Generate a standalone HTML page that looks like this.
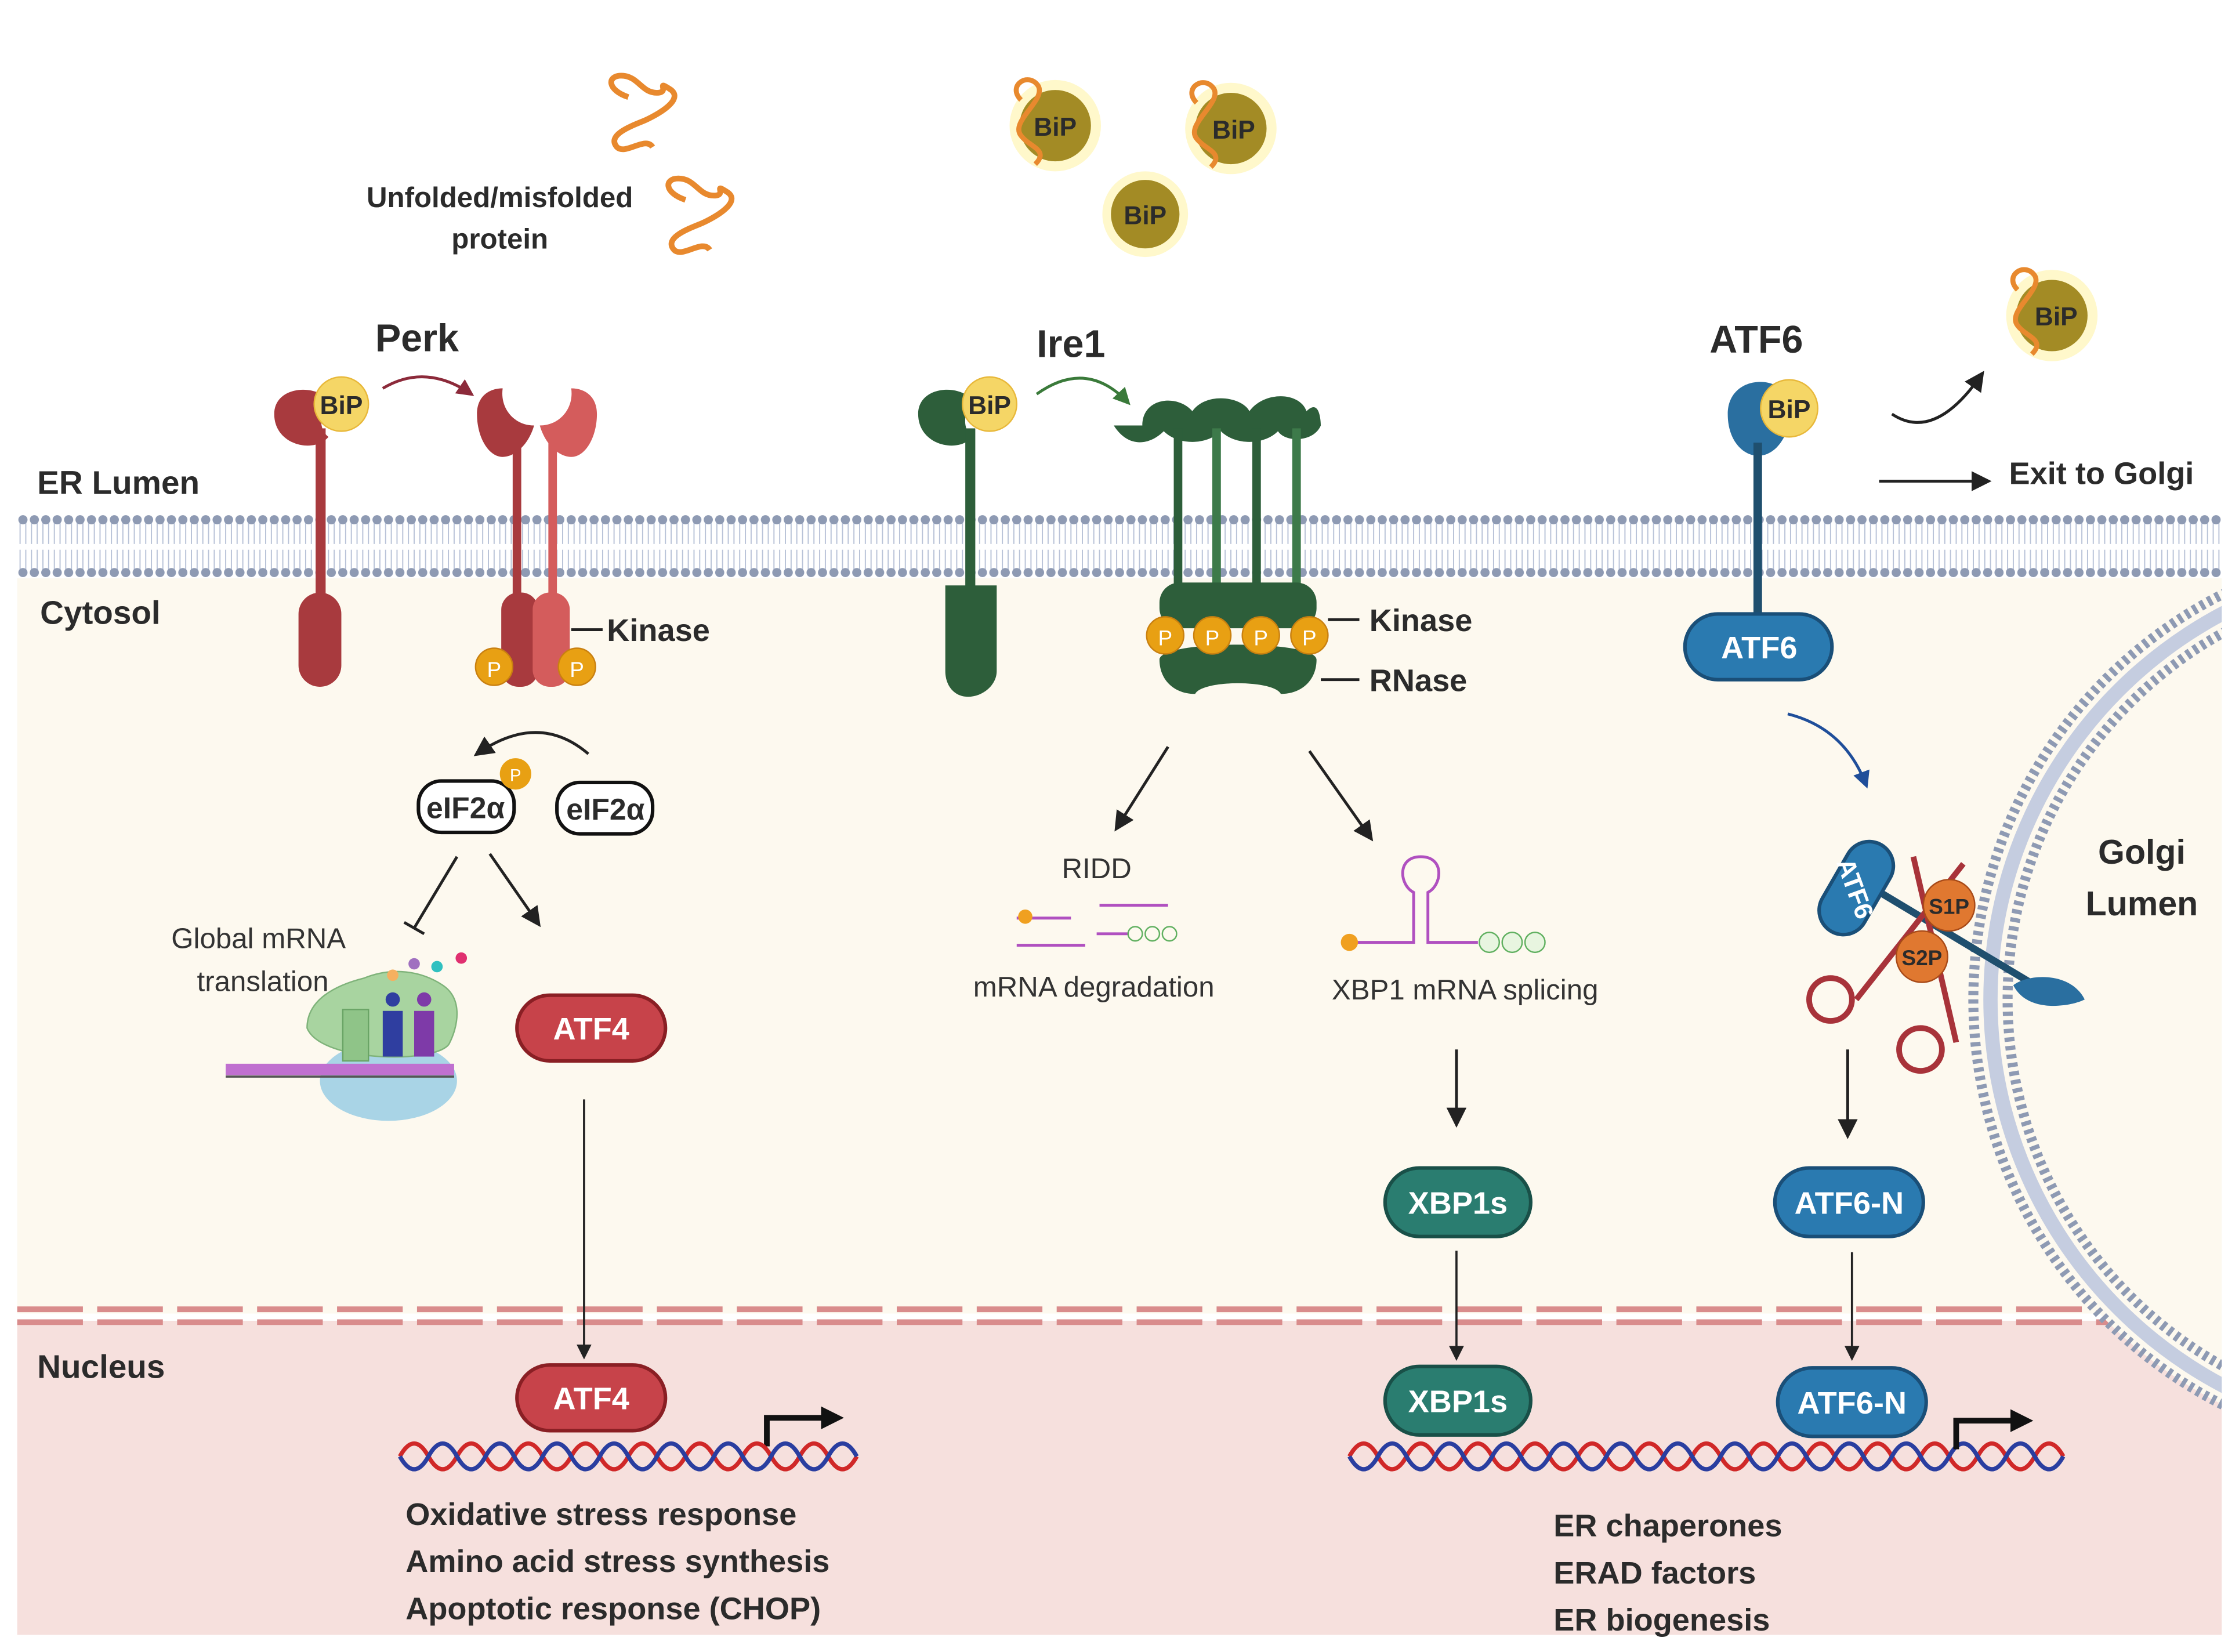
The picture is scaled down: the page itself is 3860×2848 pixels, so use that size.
<!DOCTYPE html>
<html><head><meta charset="utf-8"><style>
html,body{margin:0;padding:0;background:#fff}
svg{display:block}
text{font-family:"Liberation Sans",Arial,sans-serif}
.b{font-weight:bold;fill:#2b2b2b}
.w{font-weight:bold;fill:#fff}
.n{fill:#333}
</style></head><body>
<svg width="3860" height="2848" viewBox="0 0 1568 1157" xmlns="http://www.w3.org/2000/svg">
<defs>
<pattern id="mem" x="12" y="0" width="8" height="1157" patternUnits="userSpaceOnUse">
<line x1="2" y1="366" x2="2" y2="381" stroke="#b9c3d8" stroke-width="0.8"/>
<line x1="6" y1="366" x2="6" y2="381" stroke="#b9c3d8" stroke-width="0.8"/>
<line x1="2" y1="385" x2="2" y2="399" stroke="#b9c3d8" stroke-width="0.8"/>
<line x1="6" y1="385" x2="6" y2="399" stroke="#b9c3d8" stroke-width="0.8"/>
<circle cx="4" cy="364" r="3.2" fill="#8e9ab3"/>
<circle cx="4" cy="401" r="3.2" fill="#8e9ab3"/>
</pattern>
<marker id="ar" viewBox="0 0 10 10" refX="8" refY="5" markerWidth="7" markerHeight="7" orient="auto"><path d="M0,0 L10,5 L0,10 z" fill="#222"/></marker>
<marker id="arR" viewBox="0 0 10 10" refX="8" refY="5" markerWidth="6" markerHeight="6" orient="auto"><path d="M0,0 L10,5 L0,10 z" fill="#8c2a3a"/></marker>
<marker id="arG" viewBox="0 0 10 10" refX="8" refY="5" markerWidth="6" markerHeight="6" orient="auto"><path d="M0,0 L10,5 L0,10 z" fill="#3a7a3a"/></marker>
<marker id="arB" viewBox="0 0 10 10" refX="8" refY="5" markerWidth="6" markerHeight="6" orient="auto"><path d="M0,0 L10,5 L0,10 z" fill="#1f4e9a"/></marker>
</defs>
<rect x="12" y="405" width="1544" height="515" fill="#fdf9ef"/>
<rect x="12" y="925" width="1544" height="220" fill="#f6e0dd"/>
<rect x="12" y="358" width="1544" height="48" fill="url(#mem)"/>
<line x1="12" y1="917" x2="1556" y2="917" stroke="#d98c8c" stroke-width="4" stroke-dasharray="46,10"/>
<line x1="12" y1="926" x2="1556" y2="926" stroke="#d98c8c" stroke-width="4" stroke-dasharray="46,10"/>
<!-- Golgi -->
<circle cx="1700" cy="700" r="318" fill="#fdf9ef" stroke="#8e9ab3" stroke-width="7" stroke-dasharray="3,3"/>
<circle cx="1700" cy="700" r="306" fill="none" stroke="#c5cde0" stroke-width="10"/>
<circle cx="1700" cy="700" r="294" fill="#fdf9ef" stroke="#8e9ab3" stroke-width="7" stroke-dasharray="3,3"/>
<rect x="1556" y="360" width="20" height="800" fill="#fff"/>
<text x="1500" y="605" class="b" font-size="24" text-anchor="middle">Golgi</text>
<text x="1500" y="641" class="b" font-size="24" text-anchor="middle">Lumen</text>

<text x="26" y="346" class="b" font-size="23">ER Lumen</text>
<text x="28" y="437" class="b" font-size="23">Cytosol</text>
<text x="26" y="965" class="b" font-size="23">Nucleus</text>

<path d="M440,68 c-15,-5 -15,-15 -5,-15 c12,0 14,12 25,12 c10,0 -2,-10 10,-2 c10,8 -15,20 -20,22 c-10,4 -25,10 -18,18 c6,6 20,-8 25,0" fill="none" stroke="#e8892e" stroke-width="4"/>
<path d="M480,140 c-15,-5 -15,-15 -5,-15 c12,0 14,12 25,12 c10,0 -2,-10 10,-2 c10,8 -15,20 -20,22 c-10,4 -25,10 -18,18 c6,6 20,-8 25,0" fill="none" stroke="#e8892e" stroke-width="4"/>
<text x="350" y="145" class="b" font-size="20" text-anchor="middle">Unfolded/misfolded</text>
<text x="350" y="174" class="b" font-size="20" text-anchor="middle">protein</text>

<g font-size="18">
<circle cx="739" cy="88" r="32" fill="#fff3a8" opacity="0.6"/><circle cx="739" cy="88" r="25" fill="#a38b25"/>
<path d="M715,70 c-10,-10 5,-20 12,-10 c6,10 -20,25 -12,35 c6,8 20,10 10,20" fill="none" stroke="#e8892e" stroke-width="3.5"/>
<text x="739" y="95" class="b" text-anchor="middle">BiP</text>
<circle cx="862" cy="90" r="32" fill="#fff3a8" opacity="0.6"/><circle cx="862" cy="90" r="25" fill="#a38b25"/>
<path d="M838,72 c-10,-10 5,-20 12,-10 c6,10 -20,25 -12,35 c6,8 20,10 10,20" fill="none" stroke="#e8892e" stroke-width="3.5"/>
<text x="864" y="97" class="b" text-anchor="middle">BiP</text>
<circle cx="802" cy="150" r="30" fill="#fff3a8" opacity="0.6"/><circle cx="802" cy="150" r="24" fill="#a38b25"/>
<text x="802" y="157" class="b" text-anchor="middle">BiP</text>
<circle cx="1437" cy="221" r="32" fill="#fff3a8" opacity="0.6"/><circle cx="1437" cy="221" r="25" fill="#a38b25"/>
<path d="M1413,203 c-10,-10 5,-20 12,-10 c6,10 -20,25 -12,35 c6,8 20,10 10,20" fill="none" stroke="#e8892e" stroke-width="3.5"/>
<text x="1440" y="228" class="b" text-anchor="middle">BiP</text>
</g>

<!-- PERK -->
<text x="292" y="246" class="b" font-size="27" text-anchor="middle">Perk</text>
<path d="M192,290 c0,-20 30,-22 40,-8 c-8,4 -10,18 -2,24 c-10,12 -38,6 -38,-16z" fill="#a83a3e"/>
<rect x="221" y="300" width="7" height="120" fill="#a83a3e"/>
<rect x="209" y="415" width="30" height="66" rx="15" fill="#a83a3e"/>
<circle cx="239" cy="283" r="19" fill="#f5d666" stroke="#e8b83a"/>
<text x="239" y="290" class="b" font-size="18" text-anchor="middle">BiP</text>
<path d="M268,272 q30,-18 62,4" fill="none" stroke="#8c2a3a" stroke-width="2" marker-end="url(#arR)"/>
<path d="M334,290 c0,-12 8,-18 18,-18 c-2,14 8,26 22,26 l0,0 c-4,14 -14,22 -22,22 c-10,0 -18,-14 -18,-30z" fill="#a83a3e"/>
<path d="M418,290 c0,-12 -8,-18 -18,-18 c2,14 -8,26 -22,26 c4,14 14,22 22,22 c10,0 18,-14 18,-30z" fill="#d45c5c"/>
<rect x="359" y="305" width="6" height="115" fill="#a83a3e"/>
<rect x="384" y="305" width="6" height="115" fill="#d45c5c"/>
<rect x="351" y="415" width="26" height="66" rx="12" fill="#a83a3e"/>
<rect x="373" y="415" width="26" height="66" rx="12" fill="#d45c5c"/>
<circle cx="346" cy="467" r="13" fill="#e8a013" stroke="#c98010"/><text x="346" y="474" font-size="15" fill="#fff" text-anchor="middle">P</text>
<circle cx="404" cy="467" r="13" fill="#e8a013" stroke="#c98010"/><text x="404" y="474" font-size="15" fill="#fff" text-anchor="middle">P</text>
<line x1="400" y1="441" x2="422" y2="441" stroke="#222" stroke-width="2"/>
<text x="425" y="449" class="b" font-size="22">Kinase</text>

<path d="M412,528 q-35,-30 -78,0" fill="none" stroke="#222" stroke-width="2" marker-end="url(#ar)"/>
<rect x="293" y="547" width="67" height="36" rx="16" fill="#fff" stroke="#111" stroke-width="2.5"/>
<text x="326" y="573" class="b" font-size="21" text-anchor="middle" fill="#111">eIF2α</text>
<circle cx="361" cy="542" r="11" fill="#e8a013"/><text x="361" y="547" font-size="12" fill="#fff" text-anchor="middle">P</text>
<rect x="390" y="548" width="67" height="36" rx="16" fill="#fff" stroke="#111" stroke-width="2.5"/>
<text x="424" y="574" class="b" font-size="21" text-anchor="middle" fill="#111">eIF2α</text>
<line x1="320" y1="600" x2="290" y2="650" stroke="#222" stroke-width="2"/>
<line x1="283" y1="646" x2="297" y2="654" stroke="#222" stroke-width="2"/>
<line x1="343" y1="598" x2="377" y2="647" stroke="#222" stroke-width="2" marker-end="url(#ar)"/>
<text x="181" y="664" class="n" font-size="20" text-anchor="middle">Global mRNA</text>
<text x="184" y="694" class="n" font-size="20" text-anchor="middle">translation</text>
<ellipse cx="272" cy="757" rx="48" ry="28" fill="#a9d4e6"/>
<path d="M215,720 c0,-20 20,-30 40,-35 c20,-8 40,-5 55,5 c15,10 10,30 5,40 c-5,15 -90,15 -100,-10z" fill="#a8d4a0" stroke="#7fb37a"/>
<rect x="240" y="707" width="18" height="36" fill="#8fc488" stroke="#6aa466"/>
<rect x="268" y="708" width="14" height="32" fill="#2f3ea0"/>
<rect x="290" y="708" width="14" height="32" fill="#7e3aa8"/>
<circle cx="275" cy="700" r="5" fill="#2f3ea0"/><circle cx="297" cy="700" r="5" fill="#7e3aa8"/>
<circle cx="275" cy="683" r="4" fill="#f5b060"/><circle cx="290" cy="675" r="4" fill="#a070c0"/><circle cx="306" cy="677" r="4" fill="#30c0c0"/><circle cx="323" cy="671" r="4" fill="#e03070"/>
<rect x="158" y="745" width="160" height="8" fill="#c070d0"/>
<line x1="158" y1="754" x2="318" y2="754" stroke="#555" stroke-width="1.5"/>
<rect x="362" y="697" width="104" height="46" rx="23" fill="#c7434a" stroke="#8a1f24" stroke-width="2.5"/>
<text x="414" y="728" class="w" font-size="22" text-anchor="middle">ATF4</text>
<line x1="409" y1="770" x2="409" y2="950" stroke="#222" stroke-width="1.5" marker-end="url(#ar)"/>
<rect x="362" y="956" width="104" height="46" rx="23" fill="#c7434a" stroke="#8a1f24" stroke-width="2.5"/>
<text x="414" y="987" class="w" font-size="22" text-anchor="middle">ATF4</text>
<path d="M537,1013 v-20 h40" fill="none" stroke="#111" stroke-width="4"/><path d="M575,985 l16,8 l-16,8z" fill="#111"/>
<g stroke-width="3" fill="none">
<path d="M280,1020 q10,-18 20,0 t20,0 t20,0 t20,0 t20,0 t20,0 t20,0 t20,0 t20,0 t20,0 t20,0 t20,0 t20,0 t20,0 t20,0 t20,0" stroke="#d02828"/>
<path d="M280,1020 q10,18 20,0 t20,0 t20,0 t20,0 t20,0 t20,0 t20,0 t20,0 t20,0 t20,0 t20,0 t20,0 t20,0 t20,0 t20,0 t20,0" stroke="#2a3ea0"/>
</g>
<text x="284" y="1068" class="b" font-size="22">Oxidative stress response</text>
<text x="284" y="1101" class="b" font-size="22">Amino acid stress synthesis</text>
<text x="284" y="1134" class="b" font-size="22">Apoptotic response (CHOP)</text>

<!-- IRE1 -->
<text x="750" y="250" class="b" font-size="27" text-anchor="middle">Ire1</text>
<path d="M643,290 c0,-20 30,-22 40,-8 c-8,4 -10,18 -2,24 c-10,12 -38,6 -38,-16z" fill="#2d5e3a"/>
<rect x="676" y="300" width="7" height="120" fill="#2d5e3a"/>
<path d="M662,410 h36 v60 c0,10 -10,18 -20,18 c-10,0 -16,-8 -16,-18z" fill="#2d5e3a"/>
<circle cx="693" cy="283" r="19" fill="#f5d666" stroke="#e8b83a"/>
<text x="693" y="290" class="b" font-size="18" text-anchor="middle">BiP</text>
<path d="M726,276 q35,-25 64,6" fill="none" stroke="#3a7a3a" stroke-width="2" marker-end="url(#arG)"/>
<g>
<path d="M800,298 c0,-20 25,-22 35,-10 c10,-14 35,-10 40,0 c10,-14 35,-14 40,0 c10,-10 10,10 10,10 c-5,12 -25,12 -30,4 c-10,10 -30,10 -40,0 c-10,10 -30,10 -40,0 c-10,10 -25,12 -35,-4z" fill="#2d5e3a"/>
<rect x="822" y="300" width="6" height="115" fill="#2d5e3a"/><rect x="849" y="300" width="6" height="115" fill="#3d7a4a"/>
<rect x="877" y="300" width="6" height="115" fill="#2d5e3a"/><rect x="905" y="300" width="6" height="115" fill="#3d7a4a"/>
<rect x="812" y="408" width="110" height="32" rx="14" fill="#2d5e3a"/>
<path d="M812,462 c0,-14 110,-14 110,0 c0,14 -10,24 -25,24 c-5,-10 -55,-10 -60,0 c-15,0 -25,-10 -25,-24z" fill="#2d5e3a"/>
<circle cx="816" cy="445" r="13" fill="#e8a013" stroke="#c98010"/><text x="816" y="452" font-size="15" fill="#fff" text-anchor="middle">P</text>
<circle cx="849" cy="445" r="13" fill="#e8a013" stroke="#c98010"/><text x="849" y="452" font-size="15" fill="#fff" text-anchor="middle">P</text>
<circle cx="883" cy="445" r="13" fill="#e8a013" stroke="#c98010"/><text x="883" y="452" font-size="15" fill="#fff" text-anchor="middle">P</text>
<circle cx="917" cy="445" r="13" fill="#e8a013" stroke="#c98010"/><text x="917" y="452" font-size="15" fill="#fff" text-anchor="middle">P</text>
</g>
<line x1="930" y1="434" x2="952" y2="434" stroke="#222" stroke-width="2"/>
<text x="959" y="442" class="b" font-size="22">Kinase</text>
<line x1="925" y1="476" x2="952" y2="476" stroke="#222" stroke-width="2"/>
<text x="959" y="484" class="b" font-size="22">RNase</text>
<line x1="818" y1="523" x2="782" y2="580" stroke="#222" stroke-width="2" marker-end="url(#ar)"/>
<line x1="917" y1="526" x2="960" y2="587" stroke="#222" stroke-width="2" marker-end="url(#ar)"/>
<text x="768" y="615" class="n" font-size="20" text-anchor="middle">RIDD</text>
<g stroke="#b050c0" stroke-width="2">
<line x1="712" y1="643" x2="750" y2="643"/><line x1="712" y1="662" x2="760" y2="662"/>
<line x1="770" y1="634" x2="818" y2="634"/><line x1="768" y1="654" x2="790" y2="654"/>
</g>
<circle cx="718" cy="642" r="5" fill="#f0a020"/>
<g fill="none" stroke="#60b060"><circle cx="795" cy="654" r="5"/><circle cx="807" cy="654" r="5"/><circle cx="819" cy="654" r="5"/></g>
<text x="766" y="698" class="n" font-size="20" text-anchor="middle">mRNA degradation</text>
<path d="M940,660 h50 v-35 c-10,-5 -12,-25 5,-25 c17,0 15,20 5,25 v35 h35" fill="none" stroke="#b050c0" stroke-width="2"/>
<circle cx="945" cy="660" r="6" fill="#f0a020"/>
<g fill="#e8f5e0" stroke="#60b060"><circle cx="1043" cy="660" r="7"/><circle cx="1059" cy="660" r="7"/><circle cx="1075" cy="660" r="7"/></g>
<text x="1026" y="700" class="n" font-size="20" text-anchor="middle">XBP1 mRNA splicing</text>
<line x1="1020" y1="735" x2="1020" y2="787" stroke="#222" stroke-width="2" marker-end="url(#ar)"/>
<rect x="970" y="818" width="102" height="48" rx="24" fill="#2a7d70" stroke="#195048" stroke-width="2.5"/>
<text x="1021" y="850" class="w" font-size="22" text-anchor="middle">XBP1s</text>
<line x1="1020" y1="876" x2="1020" y2="951" stroke="#222" stroke-width="1.5" marker-end="url(#ar)"/>
<rect x="970" y="957" width="102" height="48" rx="24" fill="#2a7d70" stroke="#195048" stroke-width="2.5"/>
<text x="1021" y="989" class="w" font-size="22" text-anchor="middle">XBP1s</text>
<g stroke-width="3" fill="none">
<path d="M945,1020 q10,-18 20,0 t20,0 t20,0 t20,0 t20,0 t20,0 t20,0 t20,0 t20,0 t20,0 t20,0 t20,0 t20,0 t20,0 t20,0 t20,0 t20,0 t20,0 t20,0 t20,0 t20,0 t20,0 t20,0 t20,0 t20,0" stroke="#d02828"/>
<path d="M945,1020 q10,18 20,0 t20,0 t20,0 t20,0 t20,0 t20,0 t20,0 t20,0 t20,0 t20,0 t20,0 t20,0 t20,0 t20,0 t20,0 t20,0 t20,0 t20,0 t20,0 t20,0 t20,0 t20,0 t20,0 t20,0 t20,0" stroke="#2a3ea0"/>
</g>
<text x="1088" y="1076" class="b" font-size="22">ER chaperones</text>
<text x="1088" y="1109" class="b" font-size="22">ERAD factors</text>
<text x="1088" y="1142" class="b" font-size="22">ER biogenesis</text>

<!-- ATF6 -->
<text x="1230" y="247" class="b" font-size="27" text-anchor="middle">ATF6</text>
<path d="M1210,290 c0,-25 30,-28 40,-15 c-8,6 -10,22 0,30 c-12,25 -40,15 -40,-15z" fill="#2a6fa0"/>
<rect x="1228" y="310" width="6" height="125" fill="#1f4f6e"/>
<circle cx="1253" cy="286" r="20" fill="#f5d666" stroke="#e8b83a"/>
<text x="1253" y="293" class="b" font-size="18" text-anchor="middle">BiP</text>
<rect x="1180" y="430" width="103" height="46" rx="23" fill="#2a7ab0" stroke="#1a4f78" stroke-width="2.5"/>
<text x="1232" y="461" class="w" font-size="22" text-anchor="middle">ATF6</text>
<path d="M1325,290 q30,20 63,-28" fill="none" stroke="#222" stroke-width="2" marker-end="url(#ar)"/>
<line x1="1316" y1="337" x2="1392" y2="337" stroke="#222" stroke-width="2" marker-end="url(#ar)"/>
<text x="1407" y="339" class="b" font-size="22">Exit to Golgi</text>
<path d="M1252,500 q40,10 55,50" fill="none" stroke="#1f4e9a" stroke-width="2" marker-end="url(#arB)"/>
<line x1="1300" y1="615" x2="1425" y2="690" stroke="#1f4f6e" stroke-width="5"/>
<rect x="1265" y="605" width="70" height="34" rx="17" transform="rotate(-60 1300 622)" fill="#2a7ab0" stroke="#1a4f78" stroke-width="2.5"/>
<text x="1300" y="629" class="w" font-size="18" text-anchor="middle" transform="rotate(70 1300 622)">ATF6</text>
<path d="M1410,690 c10,-8 40,-10 50,10 c-10,5 -40,10 -50,-10z" fill="#2a6fa0"/>
<path d="M1300,700 l75,-95 M1340,600 l30,130" stroke="#a8333a" stroke-width="4"/>
<circle cx="1282" cy="700" r="15" fill="none" stroke="#a8333a" stroke-width="4"/>
<circle cx="1345" cy="735" r="15" fill="none" stroke="#a8333a" stroke-width="4"/>
<circle cx="1365" cy="634" r="18" fill="#e07830" stroke="#a84a18"/><text x="1365" y="640" class="b" font-size="15" text-anchor="middle">S1P</text>
<circle cx="1346" cy="670" r="18" fill="#e07830" stroke="#a84a18"/><text x="1346" y="676" class="b" font-size="15" text-anchor="middle">S2P</text>
<line x1="1294" y1="735" x2="1294" y2="795" stroke="#222" stroke-width="2" marker-end="url(#ar)"/>
<rect x="1243" y="818" width="104" height="48" rx="24" fill="#2a7ab0" stroke="#1a4f78" stroke-width="2.5"/>
<text x="1295" y="850" class="w" font-size="22" text-anchor="middle">ATF6-N</text>
<line x1="1297" y1="877" x2="1297" y2="951" stroke="#222" stroke-width="1.5" marker-end="url(#ar)"/>
<rect x="1245" y="958" width="104" height="48" rx="24" fill="#2a7ab0" stroke="#1a4f78" stroke-width="2.5"/>
<text x="1297" y="990" class="w" font-size="22" text-anchor="middle">ATF6-N</text>
<path d="M1370,1015 v-20 h40" fill="none" stroke="#111" stroke-width="4"/><path d="M1408,987 l16,8 l-16,8z" fill="#111"/>
</svg>
</body></html>
